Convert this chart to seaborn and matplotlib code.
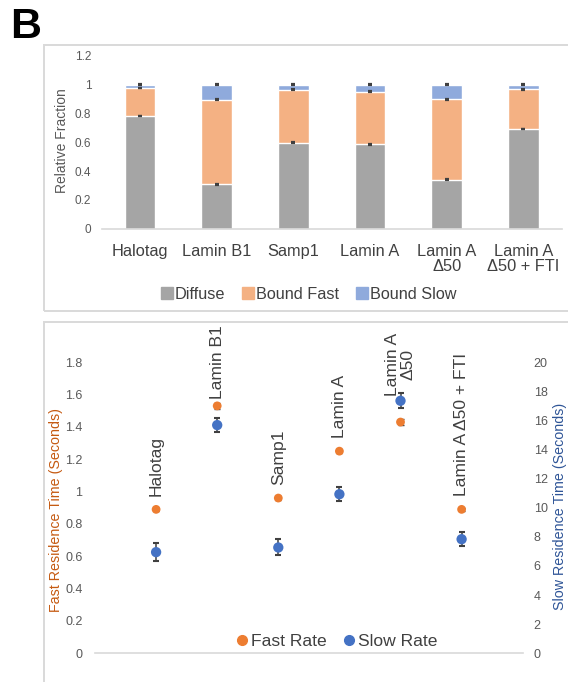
import numpy as np
import pandas as pd
import matplotlib
matplotlib.use("Agg")
import matplotlib.pyplot as plt
import seaborn as sns
from matplotlib.patches import Rectangle
from matplotlib.lines import Line2D

# ---- data -------------------------------------------------------------
categories = ["Halotag", "Lamin B1", "Samp1", "Lamin A", "Lamin A Δ50", "Lamin A Δ50 + FTI"]
bar_tick_labels = ["Halotag", "Lamin B1", "Samp1", "Lamin A", "Lamin A\nΔ50", "Lamin A\nΔ50 + FTI"]
point_labels = ["Halotag", "Lamin B1", "Samp1", "Lamin A", "Lamin A\nΔ50", "Lamin A Δ50 + FTI"]

diffuse = [0.783, 0.309, 0.598, 0.587, 0.341, 0.692]
bound_fast = [0.195, 0.587, 0.369, 0.364, 0.559, 0.278]
bound_slow = [0.022, 0.104, 0.033, 0.049, 0.100, 0.030]
diffuse_err = [0.002, 0.002, 0.002, 0.002, 0.002, 0.002]
bound_fast_err = [0.003, 0.003, 0.003, 0.003, 0.003, 0.003]
bound_slow_err = [0.002, 0.002, 0.002, 0.002, 0.002, 0.002]

fast_time = [0.89, 1.53, 0.96, 1.25, 1.43, 0.89]
fast_time_err = [0.01, 0.02, 0.01, 0.01, 0.02, 0.01]
slow_time = [6.95, 15.68, 7.27, 10.93, 17.35, 7.84]
slow_time_err = [0.62, 0.48, 0.55, 0.50, 0.53, 0.48]

# ---- style ------------------------------------------------------------
sns.set_theme(style="white")
plt.rcParams["font.family"] = ["Liberation Sans", "DejaVu Sans"]

C_DIFFUSE = "#a5a5a5"
C_FAST_BAR = "#f4b183"
C_SLOW_BAR = "#8faadc"
C_FAST = "#ed7d31"
C_SLOW = "#4472c4"
C_TICK = "#595959"
C_TEXT = "#404040"
C_LINE = "#d9d9d9"

W, H = 568, 682
fig = plt.figure(figsize=(W / 100, H / 100), dpi=100)


def rect(x0, y0, x1, y1):
    return [x0 / W, 1 - y1 / H, (x1 - x0) / W, (y1 - y0) / H]


# panel frames
for (x0, y0, x1, y1) in [(44, 45, 575, 311), (44, 322, 575, 700)]:
    fig.add_artist(Rectangle((x0 / W, 1 - y1 / H), (x1 - x0) / W, (y1 - y0) / H,
                             transform=fig.transFigure, fill=False,
                             edgecolor=C_LINE, linewidth=1.4))

fig.text(10 / W, 1 - 27 / H, "B", fontsize=31, fontweight="bold",
         ha="left", va="center", color="black")

# ---- stacked fractions -----------------------------------------------
df = pd.DataFrame({"category": categories, "diffuse": diffuse,
                   "bound_fast": bound_fast, "bound_slow": bound_slow})
df["fast_top"] = df["diffuse"] + df["bound_fast"]
df["slow_top"] = df["fast_top"] + df["bound_slow"]

ax1 = fig.add_axes(rect(101.7, 56, 561.7, 228.7))
for col, color in [("slow_top", C_SLOW_BAR), ("fast_top", C_FAST_BAR), ("diffuse", C_DIFFUSE)]:
    sns.barplot(data=df, x="category", y=col, color=color, width=0.4,
                saturation=1, errorbar=None, ax=ax1)
xs = np.arange(len(categories))
for col, err in [("diffuse", diffuse_err), ("fast_top", bound_fast_err), ("slow_top", bound_slow_err)]:
    ax1.errorbar(xs, df[col], yerr=err, fmt="none", ecolor=C_TEXT,
                 elinewidth=1, capsize=1.5, capthick=1.6, zorder=5)

ax1.set_xlim(-0.5, 5.5)
ax1.set_ylim(0, 1.2)
ax1.set_yticks([0, 0.2, 0.4, 0.6, 0.8, 1.0, 1.2])
ax1.set_yticklabels(["0", "0.2", "0.4", "0.6", "0.8", "1", "1.2"])
ax1.set_xticks(xs)
ax1.set_xticklabels(bar_tick_labels, fontsize=11.8, color=C_TEXT, linespacing=0.98, va="top")
ax1.tick_params(axis="y", length=0, pad=7.5, labelsize=8.5, labelcolor=C_TICK)
ax1.tick_params(axis="x", length=0, pad=11)
ax1.set_xlabel("")
ax1.set_ylabel("")
for s in ["left", "right", "top"]:
    ax1.spines[s].set_visible(False)
ax1.spines["bottom"].set_color(C_LINE)
ax1.spines["bottom"].set_linewidth(1.2)
ax1.set_facecolor("none")

fig.text(62.5 / W, 1 - 141 / H, "Relative Fraction", rotation=90, fontsize=10,
         color=C_TICK, ha="center", va="center")

handles1 = [Line2D([], [], marker="s", linestyle="none", markersize=8, color=c)
            for c in (C_DIFFUSE, C_FAST_BAR, C_SLOW_BAR)]
fig.legend(handles1, ["Diffuse", "Bound Fast", "Bound Slow"], loc="center",
           bbox_to_anchor=(309 / W, 1 - 294 / H), ncol=3, frameon=False,
           fontsize=11.7, handlelength=0.7, handletextpad=0.15, columnspacing=1.05,
           labelcolor=C_TEXT)

# ---- residence times --------------------------------------------------
dfp = pd.DataFrame({"pos": np.arange(1, 7), "label": point_labels,
                    "fast": fast_time, "slow": slow_time})

ax2 = fig.add_axes(rect(95, 333.1, 522.7, 653.3))
ax3 = ax2.twinx()
ax2.set_ylim(0, 1.98)
ax3.set_ylim(0, 22)
ax2.set_xlim(0, 7)

ax2.errorbar(dfp["pos"], dfp["fast"], yerr=fast_time_err, fmt="none",
             ecolor=C_TEXT, elinewidth=1, capsize=2, zorder=2)
sns.scatterplot(data=dfp, x="pos", y="fast", color=C_FAST, s=40, edgecolor="none",
                ax=ax2, zorder=3)
ax3.errorbar(dfp["pos"], dfp["slow"], yerr=slow_time_err, fmt="none",
             ecolor=C_TEXT, elinewidth=1.1, capsize=2, capthick=1.5, zorder=2)
sns.scatterplot(data=dfp, x="pos", y="slow", color=C_SLOW, s=55, edgecolor="none",
                ax=ax3, zorder=3)

# rotated category labels above the upper point of each pair
ratio = 22 / 1.98
label_gap = [13, 7, 13, 13, 5, 13]
for i, row in dfp.iterrows():
    top = max(row["fast"], row["slow"] / ratio)
    ax2.annotate(row["label"], xy=(row["pos"], top), xytext=(0, label_gap[i] * 0.72),
                 textcoords="offset points", rotation=90, ha="center", va="bottom",
                 multialignment="center", fontsize=12.6, color=C_TEXT,
                 linespacing=1.05, annotation_clip=False)

ax2.set_yticks(np.round(np.arange(0, 1.81, 0.2), 1))
ax2.set_yticklabels(["0", "0.2", "0.4", "0.6", "0.8", "1", "1.2", "1.4", "1.6", "1.8"])
ax3.set_yticks(np.arange(0, 21, 2))
ax2.set_xticks([])
ax2.tick_params(axis="y", length=0, pad=9, labelsize=9, labelcolor=C_TICK)
ax3.tick_params(axis="y", length=0, pad=8, labelsize=9, labelcolor=C_TICK)
for a in (ax2, ax3):
    a.set_xlabel("")
    a.set_ylabel("")
    for s in ["left", "right", "top"]:
        a.spines[s].set_visible(False)
    a.spines["bottom"].set_visible(False)
ax2.spines["bottom"].set_visible(True)
ax2.spines["bottom"].set_color(C_LINE)
ax2.spines["bottom"].set_linewidth(1.2)

fig.text(56 / W, 1 - 510 / H, "Fast Residence Time (Seconds)", rotation=90,
         fontsize=10.3, color="#c55a11", ha="center", va="center")
fig.text(560 / W, 1 - 506 / H, "Slow Residence Time (Seconds)", rotation=90,
         fontsize=10.3, color="#2f5597", ha="center", va="center")

handles2 = [Line2D([], [], marker="o", linestyle="none", markersize=7, color=C_FAST),
            Line2D([], [], marker="o", linestyle="none", markersize=7, color=C_SLOW)]
fig.legend(handles2, ["Fast Rate", "Slow Rate"], loc="center",
           bbox_to_anchor=(337 / W, 1 - 641 / H), ncol=2, frameon=False,
           fontsize=12.6, handlelength=0.6, handletextpad=0.2, columnspacing=1.0,
           labelcolor=C_TEXT)

fig.savefig("out.png", dpi=100, facecolor="white")
